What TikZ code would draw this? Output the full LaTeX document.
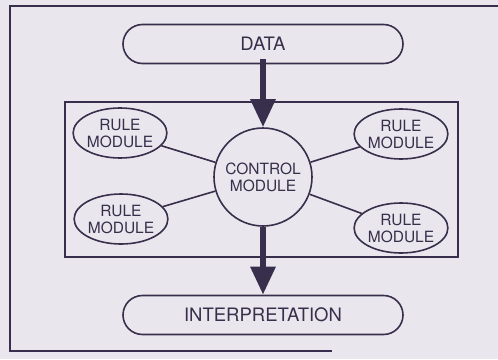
\documentclass[tikz,border=0pt]{standalone}
\usepackage{fontspec}
\setmainfont{TeX Gyre Heros}
\usetikzlibrary{arrows.meta,shapes.geometric,shapes.misc}
\definecolor{paper}{RGB}{233,231,237}
\definecolor{ink}{RGB}{55,47,75}
\begin{document}
\begin{tikzpicture}[x=1pt,y=-1pt,
  line/.style={draw=ink, line width=1.6pt},
  stadium/.style={line, rounded rectangle, minimum width=280pt, minimum height=39pt,
    inner sep=0pt, text=ink, font=\fontsize{18.5}{20}\selectfont},
  rulemod/.style={line, ellipse, minimum width=92pt, minimum height=50pt, inner sep=0pt,
    align=center, text=ink, font=\fontsize{15.5}{17}\selectfont},
  ctrlmod/.style={line, circle, minimum size=98pt, inner sep=0pt,
    align=center, text=ink, font=\fontsize{15.5}{17}\selectfont},
  bigarrow/.style={draw=ink, fill=ink, line width=6pt, -{Triangle[width=24pt,length=28pt]}}
]
\fill[paper] (0,0) rectangle (498,359);
\useasboundingbox (0,0) rectangle (498,359);
% outer frame
\draw[line] (498,6) -- (10,6) -- (10,351) -- (332,351);
% inner box
\draw[line] (65,102) rectangle (458,257);
% nodes
\node[stadium] (data) at (263,44) {DATA};
\node[stadium] (interp) at (263,315) {INTERPRETATION};
\node[ctrlmod] (ctrl) at (263,177) {CONTROL\\MODULE};
\node[rulemod] (r1) at (120,133) {RULE\\MODULE};
\node[rulemod] (r2) at (401,134) {RULE\\MODULE};
\node[rulemod] (r3) at (121,219) {RULE\\MODULE};
\node[rulemod] (r4) at (401,228) {RULE\\MODULE};
% connectors
\draw[line] (r1) -- (ctrl);
\draw[line] (r2) -- (ctrl);
\draw[line] (r3) -- (ctrl);
\draw[line] (r4) -- (ctrl);
% arrows
\draw[bigarrow] ([yshift=5pt]data.south) -- (ctrl.north);
\draw[bigarrow] (ctrl.south) -- (interp.north);
\end{tikzpicture}
\end{document}
